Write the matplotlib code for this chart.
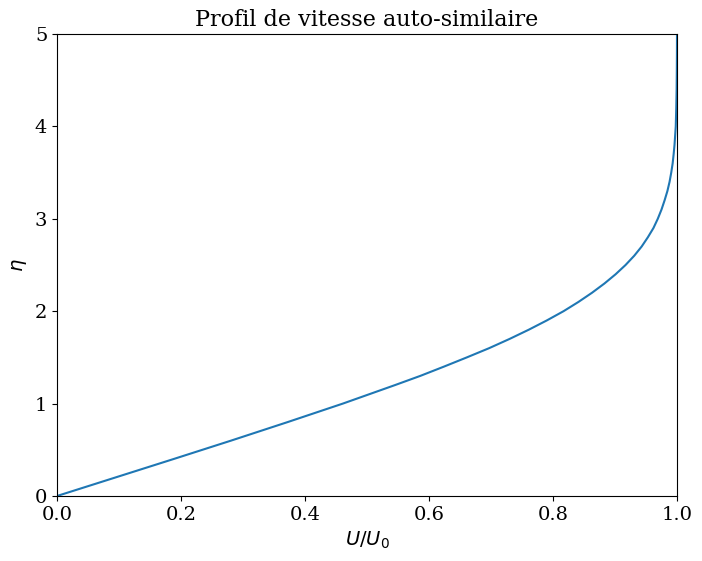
import matplotlib
matplotlib.use("Agg")
import matplotlib.pyplot as plt

# values
eta = [0.0, 0.2, 0.4, 0.6, 0.8, 1.0, 1.2, 1.3, 1.4, 1.5, 1.6, 1.7, 1.8,
       1.9, 2.0, 2.1, 2.2, 2.3, 2.4, 2.5, 2.6, 2.7, 2.8, 2.9, 3.0, 3.1,
       3.2, 3.3, 3.4, 3.5, 3.6, 3.7, 3.8, 3.9, 4.0, 4.2, 4.4, 4.6, 4.8, 5.0]
u_ratio = [0.0, 0.094, 0.188, 0.281, 0.372, 0.461, 0.545, 0.586, 0.624,
           0.661, 0.697, 0.730, 0.761, 0.790, 0.817, 0.841, 0.863, 0.883,
           0.901, 0.917, 0.931, 0.943, 0.953, 0.962, 0.969, 0.975, 0.980,
           0.9845, 0.988, 0.9907, 0.993, 0.9946, 0.996, 0.997, 0.998,
           0.9988, 0.9994, 0.9997, 0.9999, 1.0]

plt.rcParams['font.family'] = 'serif'
plt.rcParams['font.size'] = 14

fig = plt.figure(figsize=(7.02, 5.61), dpi=100)
ax = fig.add_axes([57/702, 65/561, 620/702, 462/561])

ax.plot(u_ratio, eta, color='#1f77b4', linewidth=1.5)
ax.set_xlim(0, 1)
ax.set_ylim(0, 5)
ax.set_xlabel(r'$U/U_0$')
ax.set_ylabel(r'$\eta$')
ax.set_title('Profil de vitesse auto-similaire', fontsize=16)

fig.savefig('out.png', dpi=100)
